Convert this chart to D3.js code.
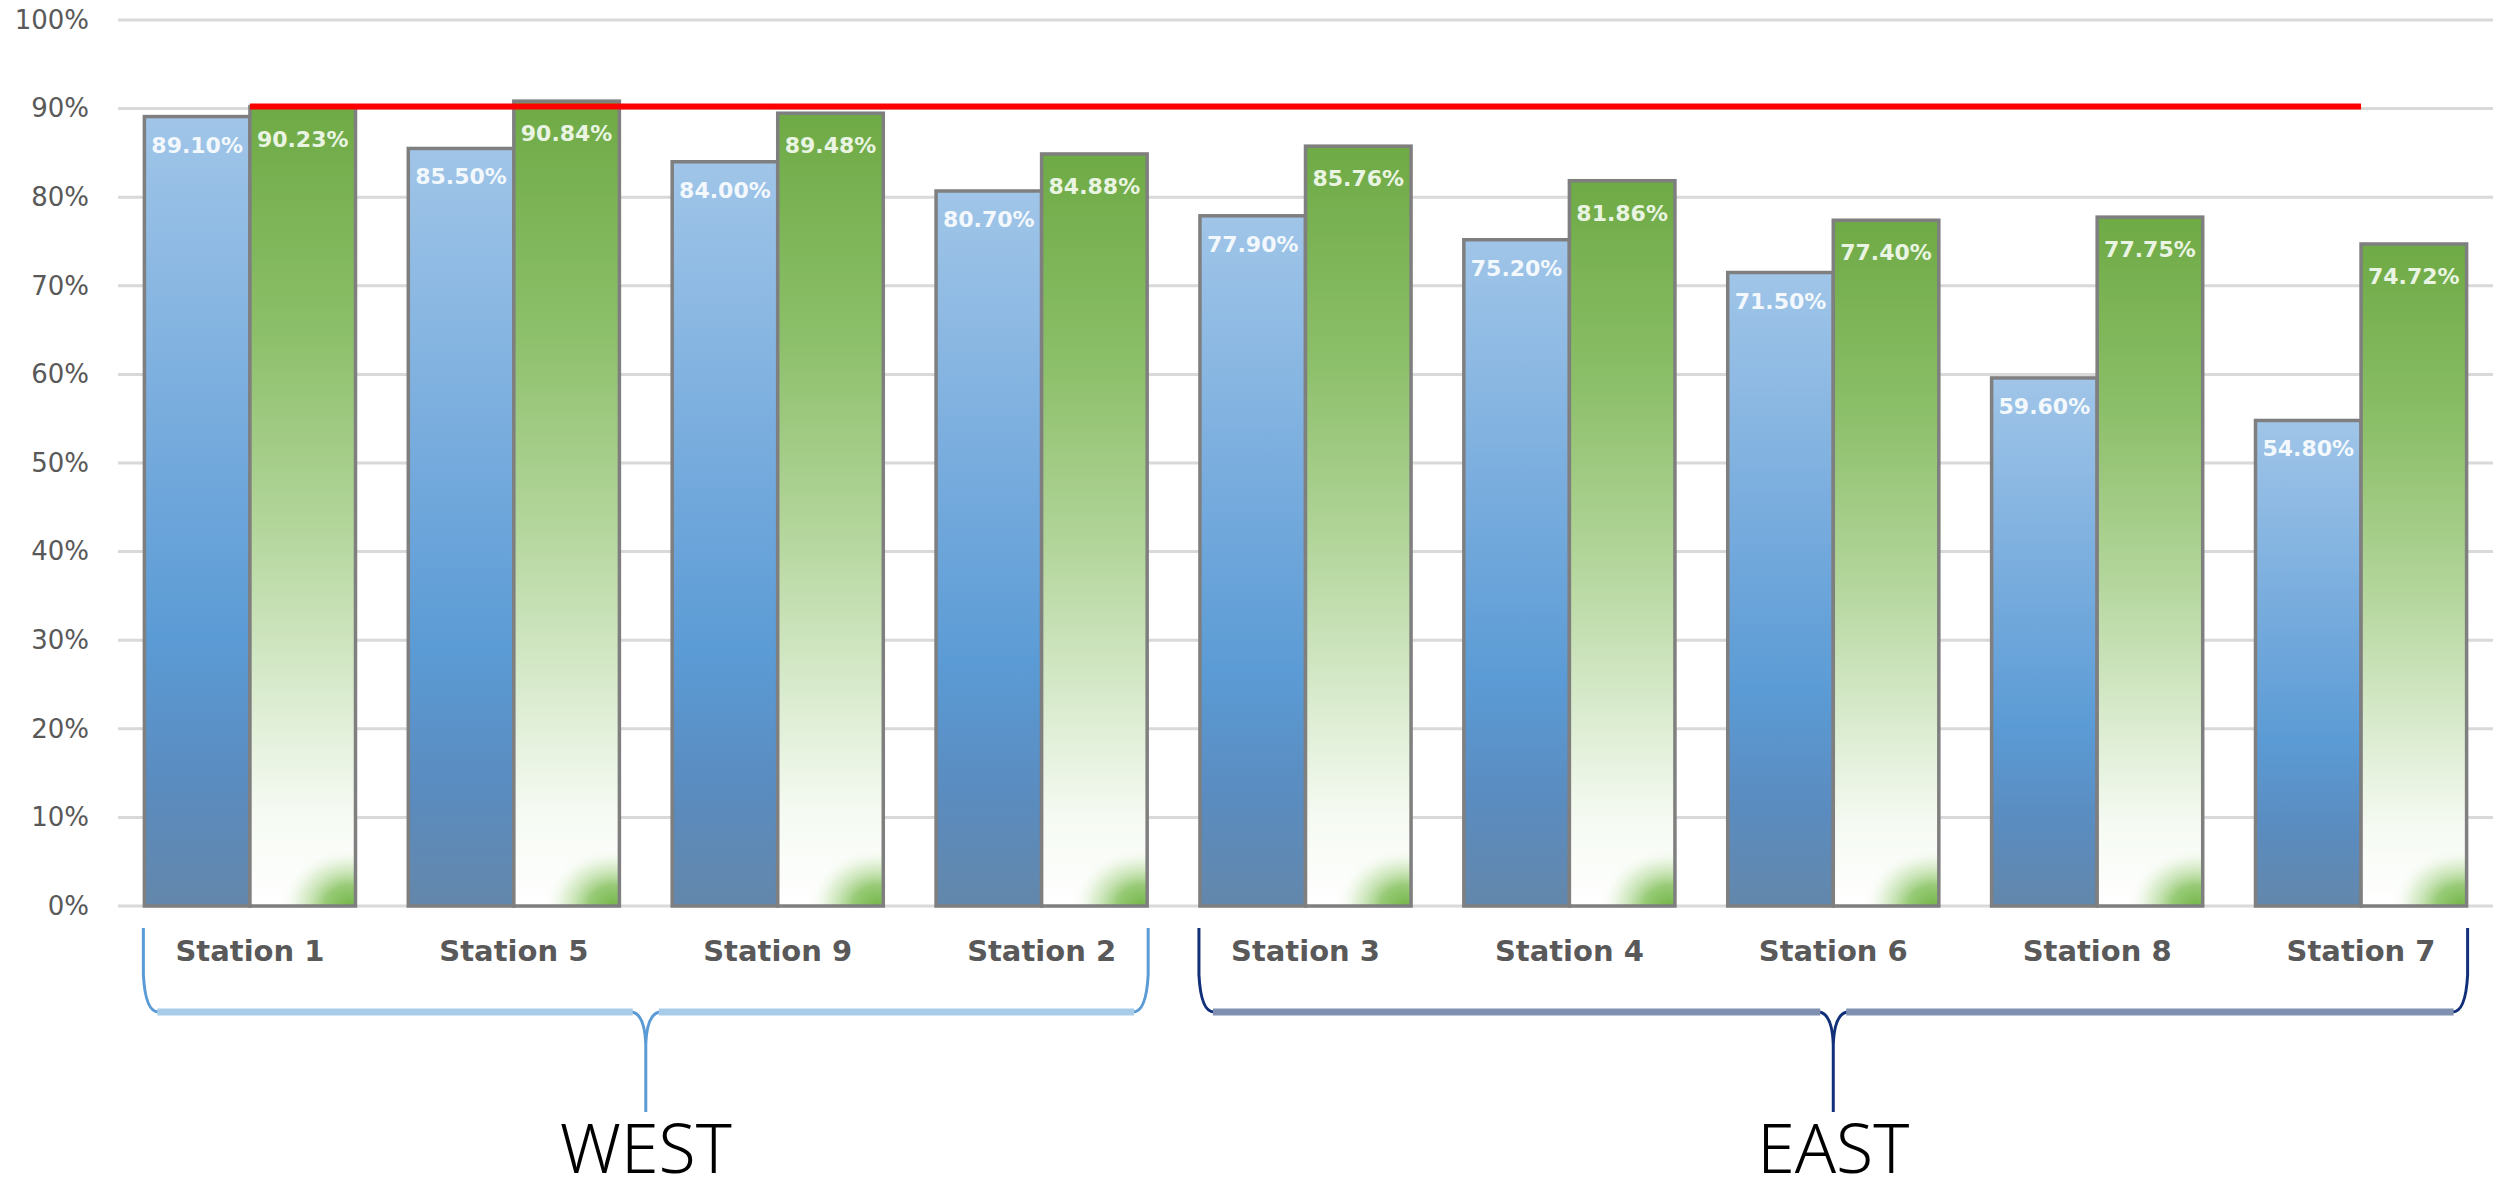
<!DOCTYPE html>
<html><head><meta charset="utf-8">
<script src="https://cdn.jsdelivr.net/npm/d3@7/dist/d3.min.js"></script>
<style>body{margin:0;background:#fff}svg{display:block}</style>
</head><body><svg id="chart" width="2512" height="1192"></svg>
<script>
const categories = ["Station 1","Station 5","Station 9","Station 2","Station 3","Station 4","Station 6","Station 8","Station 7"];
const seriesBlue = [0.891,0.855,0.840,0.807,0.779,0.752,0.715,0.596,0.548];
const seriesGreen = [0.9023,0.9084,0.8948,0.8488,0.8576,0.8186,0.7740,0.7775,0.7472];
const targetValue = 0.90;
const yTicks = [0,0.1,0.2,0.3,0.4,0.5,0.6,0.7,0.8,0.9,1.0];
const groupNames = ["WEST","EAST"];
const groupStart = ["Station 1","Station 3"];
const groupEnd = ["Station 2","Station 7"];

(function(){
const svg = d3.select("#chart");
const plotL = 118, plotR = 2493, plotT = 20, plotB = 906;

const x = d3.scaleBand().domain(categories).range([plotL, plotR]).paddingInner(0.2).paddingOuter(0.1);
const y = d3.scaleLinear().domain([0,1]).range([plotB, plotT]);
const bw = x.bandwidth(), half = bw/2;

const defs = svg.append("defs");
const gBlue = defs.append("linearGradient").attr("id","gBlue").attr("x1",0).attr("y1",0).attr("x2",0).attr("y2",1);
[[0,"#a0c5e8"],[0.4,"#76abdd"],[0.66,"#5b9bd5"],[0.84,"#5a8cc0"],[1,"#6387ab"]].forEach(s=>gBlue.append("stop").attr("offset",s[0]).attr("stop-color",s[1]));
const gGreen = defs.append("linearGradient").attr("id","gGreen").attr("x1",0).attr("y1",0).attr("x2",0).attr("y2",1);
[[0,"#6eaa45"],[0.28,"#8cbf69"],[0.52,"#b2d59a"],[0.74,"#dbecd0"],[0.88,"#f5faf2"],[1,"#ffffff"]].forEach(s=>gGreen.append("stop").attr("offset",s[0]).attr("stop-color",s[1]));
const gSpot = defs.append("radialGradient").attr("id","gSpot").attr("cx",0.92).attr("cy",1).attr("r",0.95).attr("fx",0.92).attr("fy",1);
[[0,"#74b54a",1],[0.35,"#8cc567",0.9],[0.7,"#c4e2ae",0.5],[1,"#ffffff",0]].forEach(s=>gSpot.append("stop").attr("offset",s[0]).attr("stop-color",s[1]).attr("stop-opacity",s[2]));

// gridlines
svg.append("g").selectAll("line").data(yTicks).join("line")
  .attr("x1",plotL).attr("x2",plotR).attr("y1",d=>y(d)).attr("y2",d=>y(d))
  .attr("stroke","#d9d9d9").attr("stroke-width",3);

// y axis labels
const yAxis = svg.append("g").attr("transform",`translate(${plotL},0)`)
  .call(d3.axisLeft(y).tickValues(yTicks).tickFormat(d3.format(".0%")).tickSize(0).tickPadding(29));
yAxis.select(".domain").remove();
yAxis.selectAll("text").attr("font-family","DejaVu Sans").attr("font-size",26).attr("fill","#595959");

// bars
const bars = svg.append("g");
categories.forEach((c,i)=>{
  const xb = x(c), xg = x(c)+half;
  bars.append("rect").attr("x",xb).attr("y",y(seriesBlue[i])).attr("width",half).attr("height",y(0)-y(seriesBlue[i]))
    .attr("fill","url(#gBlue)").attr("stroke","#7f7f7f").attr("stroke-width",3.5);
  bars.append("rect").attr("x",xg).attr("y",y(seriesGreen[i])).attr("width",half).attr("height",y(0)-y(seriesGreen[i]))
    .attr("fill","url(#gGreen)");
  bars.append("rect").attr("x",xg+half*0.3).attr("y",y(0.07)).attr("width",half*0.7).attr("height",y(0)-y(0.07))
    .attr("fill","url(#gSpot)");
  bars.append("rect").attr("x",xg).attr("y",y(seriesGreen[i])).attr("width",half).attr("height",y(0)-y(seriesGreen[i]))
    .attr("fill","none").attr("stroke","#7f7f7f").attr("stroke-width",3.5);
});

// target line
svg.append("line")
  .attr("x1",x(categories[0])+half).attr("x2",x(categories[categories.length-1])+half)
  .attr("y1",y(targetValue)-2).attr("y2",y(targetValue)-2)
  .attr("stroke","#ff0000").attr("stroke-width",6);

// data labels
const fmt = d3.format(".2%");
const lbl = svg.append("g").attr("font-family","DejaVu Sans").attr("font-weight","bold").attr("font-size",22).attr("text-anchor","middle");
categories.forEach((c,i)=>{
  lbl.append("text").attr("x",x(c)+half/2).attr("y",y(seriesBlue[i])+36).attr("fill","#f3f8fc").text(fmt(seriesBlue[i]));
  lbl.append("text").attr("x",x(c)+half*1.5).attr("y",y(seriesGreen[i])+40).attr("fill","#eaf4e2").text(fmt(seriesGreen[i]));
});

// category labels
svg.append("g").selectAll("text").data(categories).join("text")
  .attr("x",d=>x(d)+half).attr("y",961).attr("text-anchor","middle")
  .attr("font-family","DejaVu Sans").attr("font-weight","bold").attr("font-size",29).attr("fill","#595959")
  .text(d=>d);

// braces
const braceStyle = [
  {thin:"#5b9bd5", thick:"#a9cbea", text:"#000"},
  {thin:"#12307a", thick:"#7f90b1", text:"#000"}
];
const bTop = 928, bMid = 1012, bTip = 1112;
groupNames.forEach((g,i)=>{
  const a = x(groupStart[i]) - 1, b = x(groupEnd[i]) + bw + 1, m = (a+b)/2;
  const st = braceStyle[i];
  const gg = svg.append("g");
  const p = d3.path();
  p.moveTo(a,bTop); p.lineTo(a,975); p.quadraticCurveTo(a+2,bMid,a+15,bMid);
  p.lineTo(m-14,bMid); p.quadraticCurveTo(m-1,bMid+2,m,1045); p.lineTo(m,bTip);
  p.moveTo(m,1045); p.quadraticCurveTo(m+1,bMid+2,m+14,bMid); p.lineTo(b-15,bMid);
  p.quadraticCurveTo(b-2,bMid,b,975); p.lineTo(b,bTop);
  gg.append("path").attr("d",p.toString()).attr("fill","none").attr("stroke",st.thin).attr("stroke-width",3);
  gg.append("line").attr("x1",a+14).attr("x2",m-13).attr("y1",bMid).attr("y2",bMid).attr("stroke",st.thick).attr("stroke-width",7);
  gg.append("line").attr("x1",m+13).attr("x2",b-14).attr("y1",bMid).attr("y2",bMid).attr("stroke",st.thick).attr("stroke-width",7);
  svg.append("text").attr("x",m).attr("y",1173).attr("text-anchor","middle")
    .attr("font-family","Noto Sans").attr("font-weight",300).attr("font-size",68).attr("fill",st.text).text(g);
});
})();
</script>
</body></html>
